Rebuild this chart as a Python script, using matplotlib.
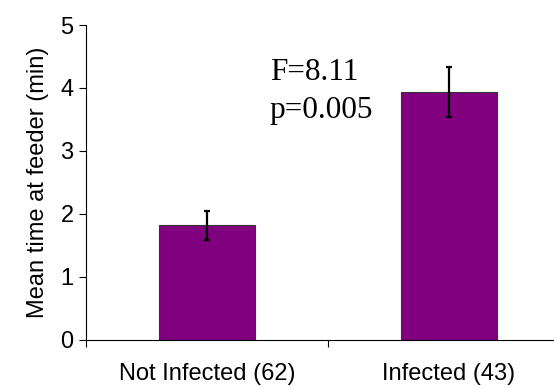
import matplotlib.pyplot as plt
import numpy as np

categories = ["Not Infected (62)", "Infected (43)"]
means = [1.815, 3.93]
errors = [0.235, 0.40]
stat_lines = ["F=8.11", "p=0.005"]

plt.rcParams['font.family'] = ['Liberation Sans', 'DejaVu Sans']

fig = plt.figure(figsize=(5.54, 3.88), dpi=100)
ax = fig.add_axes([86 / 554, 48.5 / 388, 484 / 554, 314.5 / 388])

x = np.arange(len(categories))
ax.bar(x, means, width=0.4, color="#800080", edgecolor="#333333", linewidth=0.8, zorder=2)
ax.errorbar(x, means, yerr=errors, fmt="none", ecolor="black",
            elinewidth=1.6, capsize=2.5, capthick=1.6, zorder=3)

ax.set_xlim(-0.5, 1.5)
ax.set_ylim(0, 5)
ax.set_yticks(range(6))
ax.tick_params(axis="y", labelsize=17, length=5, width=0.8, pad=4, direction="out")

# category labels on the centers, tick marks on the boundaries
ax.set_xticks(x)
ax.set_xticklabels(categories)
ax.tick_params(axis="x", which="major", length=0, labelsize=17, pad=17)
ax.set_xticks([-0.5, 0.5, 1.5], minor=True)
ax.tick_params(axis="x", which="minor", length=5, width=0.8, direction="out")

for side in ["top", "right"]:
    ax.spines[side].set_visible(False)
for side in ["left", "bottom"]:
    ax.spines[side].set_linewidth(0.8)

ax.set_ylabel("Mean time at feeder (min)", fontsize=17, labelpad=8)

ax.text(0.26, 4.125, stat_lines[0], fontsize=22.5, family="Liberation Serif", va="baseline")
ax.text(0.26, 3.52, stat_lines[1], fontsize=22.5, family="Liberation Serif", va="baseline")

fig.savefig("out.png", dpi=100)
